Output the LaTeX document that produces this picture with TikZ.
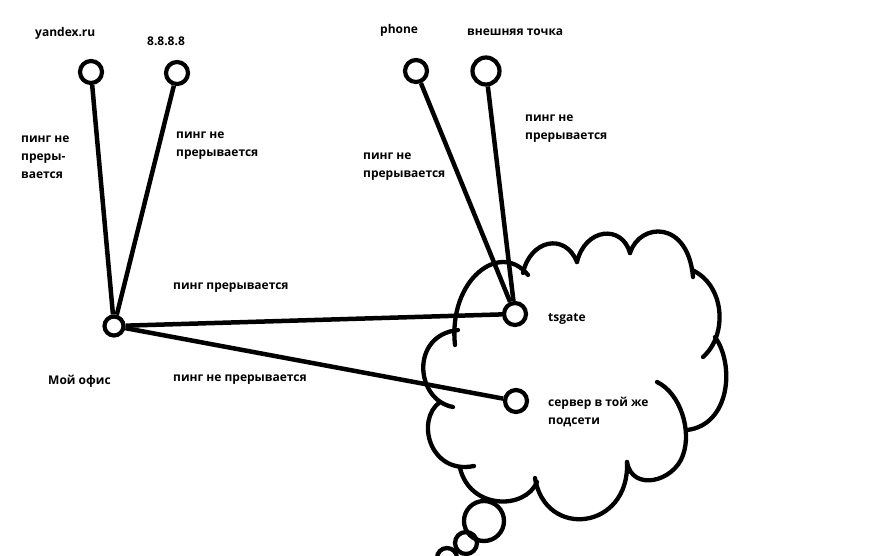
\documentclass[tikz,border=0pt]{standalone}
\usepackage{fontspec}
\setmainfont{Open Sans}
\usetikzlibrary{calc}
\newcommand{\cloudarc}[4]{\draw[cloudline] (#1) .. controls (#2) and (#3) .. (#4);}
\newcommand{\bubble}[2]{\draw[cloudline] (#1) circle (#2pt);}
\tikzset{
  host/.style={circle,draw,line width=4.2pt,minimum size=22pt,inner sep=0pt},
  link/.style={line width=4.5pt},
  cloudline/.style={line width=4.3pt,line cap=round},
  lbl/.style={font=\fontsize{12}{18}\selectfont\bfseries,align=left,inner sep=0pt,anchor=west}
}

\begin{document}
\begin{tikzpicture}[x=1pt,y=-1pt]

    \useasboundingbox[fill=white] (0,0) rectangle (894,555);

    \node[host] (yandex) at (91,72) {};
    \node[host] (google) at (177,73) {};
    \node[host] (phone) at (416,71) {};
    \node[host,minimum size=27pt] (outer) at (486,71) {};
    \node[host,minimum size=19pt] (office) at (114,326) {};
    \node[host] (tsgate) at (515,314) {};
    \node[host] (server) at (516,401) {};

    \draw[link] (yandex) -- (office);
    \draw[link] (google) -- (office);
    \draw[link] (phone) -- (tsgate);
    \draw[link] (outer) -- (tsgate);
    \draw[link] (office) -- (tsgate);
    \draw[link] (office) -- (server);

    \node[lbl] (yandexname) at (35,33) {yandex.ru};
    \node[lbl] (googlename) at (147,41) {8.8.8.8};
    \node[lbl] (phonename) at (380,30) {phone};
    \node[lbl] (outername) at (467,32) {внешняя точка};
    \node[lbl] (officename) at (48,381) {Мой офис};
    \node[lbl] (tsgatename) at (548,319) {tsgate};
    \node[lbl] (servername) at (548,412) {сервер в той же\\подсети};

    \node[lbl] (yandexping) at (21,157) {пинг не\\преры-\\вается};
    \node[lbl] (googleping) at (176,146) {пинг не\\прерывается};
    \node[lbl] (phoneping) at (363,167) {пинг не\\прерывается};
    \node[lbl] (outerping) at (525,129) {пинг не\\прерывается};
    \node[lbl] (gateping) at (173,288) {пинг прерывается};
    \node[lbl] (serverping) at (173,380) {пинг не прерывается};

    \cloudarc{453,407}{415,400}{410,335}{458,330}
    \cloudarc{455,345}{448,280}{500,240}{528,275}
    \cloudarc{523,273}{530,240}{565,232}{577,262}
    \cloudarc{577,262}{585,228}{622,224}{630,253}
    \cloudarc{630,253}{640,222}{688,220}{693,277}
    \cloudarc{692,270}{725,285}{728,335}{703,357}
    \cloudarc{715,337}{735,365}{730,425}{687,430}
    \cloudarc{657,382}{680,393}{692,430}{683,455}
    \cloudarc{683,455}{674,482}{632,492}{627,462}
    \cloudarc{627,462}{630,530}{545,540}{535,478}
    \cloudarc{537,482}{525,510}{470,510}{460,468}
    \cloudarc{474,466}{430,475}{415,420}{440,402}

    \bubble{484,521}{20}
    \bubble{466,543}{11}
    \bubble{447,558}{10}

\end{tikzpicture}
\end{document}
